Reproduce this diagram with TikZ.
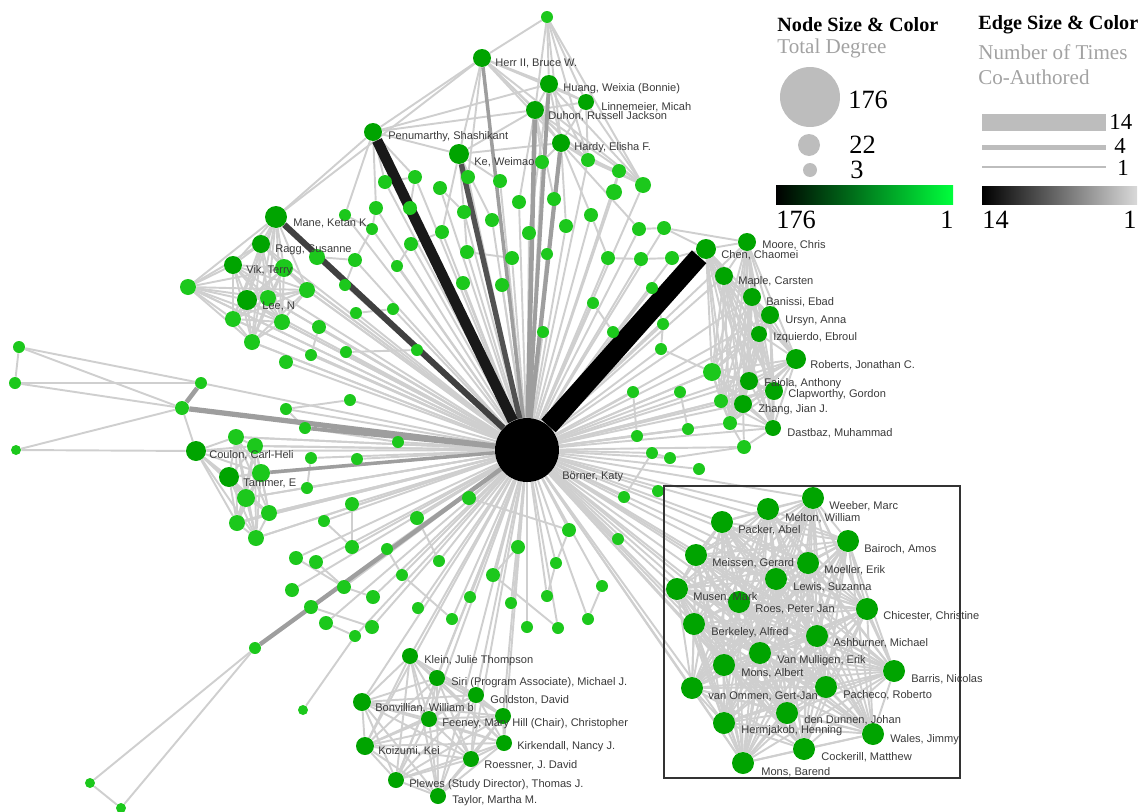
\documentclass[tikz,border=0pt]{standalone}
\usepackage{fontspec}
\setmainfont{Liberation Serif}
\setsansfont{Liberation Sans}
\usetikzlibrary{backgrounds,positioning}
\definecolor{authorgreen}{HTML}{00A400}
\definecolor{leafgreen}{HTML}{1CC81C}
\definecolor{brightgreen}{HTML}{00FF3C}
\definecolor{edgegray}{HTML}{CFCFCF}
\definecolor{keygray}{HTML}{BDBDBD}
\definecolor{subgray}{HTML}{A2A2A2}
\definecolor{namegray}{HTML}{3A3A3A}

\tikzset{
  author/.style={circle,inner sep=0pt,minimum size=#1*0.4mm,fill=authorgreen},
  leaf/.style={circle,inner sep=0pt,minimum size=#1*0.4mm,fill=leafgreen},
  authorname/.style={anchor=west,inner sep=0pt,text=namegray,font=\sffamily\fontsize{6.3}{7}\selectfont},
  coauth/.style={draw=edgegray,line width=1.1pt},
  legendhead/.style={anchor=west,inner sep=0pt,font=\bfseries\fontsize{11.5}{13}\selectfont},
  legendsub/.style={anchor=west,inner sep=0pt,text=subgray,font=\fontsize{12}{14}\selectfont},
  legendnum/.style={anchor=west,inner sep=0pt,font=\fontsize{15}{17}\selectfont},
  widthnum/.style={anchor=west,inner sep=0pt,font=\fontsize{13}{14}\selectfont},
  sizedot/.style={circle,inner sep=0pt,fill=keygray,minimum size=#1*0.4mm}
}

% groups of co-authors that all wrote with one another
\def\topnet{herr,huang,linnemeier,duhon,hardy,t1,t3,t5}
\def\manenet{mane,ragg,vik,lee,m1,m2,m3,m5,m6,m7,m8}
\def\chennet{chen,moore,maple,banissi,ursyn,izquierdo,roberts,faiola,clapworthy,zhang,dastbaz,r1,r2,r3}
\def\coulonnet{coulon,tammer,l6,l7,l8,l9,l10,l11,l12}
\def\nasnet{klein,siri,goldston,bonvillian,feeney,hill,kirkendall,koizumi,roessner,plewes,taylor}
\def\boxnet{weeber,melton,packer,bairoch,meissen,moeller,lewis,musen,roes,chicester,berkeley,ashburner,vanmulligen,monsalbert,barris,vanommen,pacheco,dendunnen,hermjakob,wales,cockerill,monsbarend}

\newcommand\cliqueedges[1]{%
  \foreach \a [count=\i] in #1 {%
    \draw[coauth] (boerner) -- (\a);
    \foreach \b [count=\j] in #1 {\ifnum\j>\i \draw[coauth] (\a) -- (\b);\fi}}}

\begin{document}
\begin{tikzpicture}[x=0.02cm,y=-0.02cm]
  \useasboundingbox (0,0) rectangle (1144,812);

  \node[circle,inner sep=0pt,minimum size=12.8mm,fill=black] (boerner) at (527,450) {};
  \foreach \n/\x/\y/\r in {herr/482/58/9, huang/549/84/9, linnemeier/586/102/8, duhon/535/110/9,
    hardy/561/143/9, ke/459/154/10, penumarthy/373/132/9, mane/276/217/11, ragg/261/244/9,
    vik/233/265/9, lee/247/300/10, coulon/196/451/10, tammer/229/477/10,
    chen/706/249/10, moore/747/242/9, maple/724/276/9, banissi/752/297/9, ursyn/770/315/9,
    izquierdo/759/334/8, roberts/796/359/10, faiola/749/381/9, clapworthy/774/391/9,
    zhang/743/404/9, dastbaz/773/428/8,
    klein/410/656/8, siri/437/678/8, goldston/476/695/8, bonvillian/362/702/9, feeney/429/719/8,
    hill/503/716/8, kirkendall/504/743/8, koizumi/365/746/9, roessner/471/759/8,
    plewes/396/780/8, taylor/438/796/8}
    \node[author=\r] (\n) at (\x,\y) {};
  \foreach \n/\x/\y in {weeber/813/498, melton/768/509, packer/722/522, bairoch/848/541,
    meissen/696/555, moeller/808/563, lewis/776/579, musen/677/589, roes/739/602,
    chicester/867/609, berkeley/694/624, ashburner/817/636, vanmulligen/760/653,
    monsalbert/724/665, barris/894/671, vanommen/692/688, pacheco/826/687, dendunnen/787/713,
    hermjakob/724/723, wales/873/734, cockerill/804/749, monsbarend/743/763}
    \node[author=11] (\n) at (\x,\y) {};
  \foreach \n/\x/\y/\r in {t1/547/17/6, t2/542/162/7, t3/588/160/7, t4/619/171/7, t5/643/185/8,
    t6/614/192/8, t7/468/177/7, t8/500/181/7, t9/440/188/7, t10/519/202/7, t11/554/199/7,
    t12/464/212/7, t13/492/220/7, t14/591/215/7, t15/566/226/7, t16/529/233/7, t17/639/229/7,
    t18/664/228/7, t19/385/182/7, t20/415/177/7, t21/410/208/7, t22/376/208/7, t23/345/215/6,
    t24/372/229/6, t25/442/232/7, t26/411/244/7, t27/467/252/7, t28/512/258/7, t29/547/254/6,
    t30/608/258/7, t31/641/259/7, t32/672/258/7, t33/463/283/7, t34/502/285/7, t35/593/303/6,
    t36/543/332/6, t37/613/332/6,
    m1/188/287/8, m2/268/298/8, m3/284/268/9, m4/317/257/8, m5/307/290/8, m6/233/319/8,
    m7/282/322/8, m8/252/342/8, m9/319/327/7, m10/311/355/6, m11/286/362/7, m12/345/285/6,
    m13/355/260/7, m14/397/266/6, m15/356/313/6, m16/393/309/6, m17/346/352/6, m18/417/350/6,
    m19/350/400/6, m20/398/442/6, m21/357/459/6,
    l1/19/347/6, l2/15/383/6, l3/16/450/5, l4/201/383/6, l5/182/408/7, l6/236/437/8,
    l7/255/446/8, l8/261/473/9, l9/246/498/9, l10/269/513/8, l11/237/523/8, l12/256/538/8,
    l13/286/409/6, l14/305/428/6, l15/311/458/6, l16/307/488/6, l17/324/521/6,
    r1/712/372/9, r2/721/401/7, r3/730/423/7, r4/744/447/7, r5/652/288/6, r6/663/324/6,
    r7/661/349/6, r8/633/392/6, r9/680/392/6, r10/688/429/6, r11/637/436/6, r12/652/453/6,
    r13/670/458/6,
    b1/469/498/7, b2/417/518/7, b3/352/504/7, b4/569/530/7, b5/618/539/6, b6/624/497/6,
    b7/518/547/7, b8/556/563/6, b9/493/575/7, b10/602/586/6, b11/547/596/6, b12/470/597/6,
    b13/511/603/6, b14/292/590/7, b15/344/587/7, b16/311/607/7, b17/373/597/7, b18/418/608/6,
    b19/452/619/6, b20/326/623/7, b21/372/627/7, b22/355/636/6, b23/527/627/6, b24/588/619/6,
    b25/558/628/6, b26/255/648/6, b27/303/710/5, b28/90/783/5, b29/121/808/5, b30/352/547/7,
    b31/387/549/6, b32/296/558/7, b33/316/562/7, b34/439/561/6, b35/402/575/6, b36/658/491/6,
    b37/699/469/6}
    \node[leaf=\r] (\n) at (\x,\y) {};

  \begin{pgfonlayer}{background}
    \foreach \k in {2,...,37} \draw[coauth] (boerner) -- (t\k);
    \foreach \k in {1,...,21} \draw[coauth] (boerner) -- (m\k);
    \foreach \k in {4,...,17} \draw[coauth] (boerner) -- (l\k);
    \foreach \k in {1,...,13} \draw[coauth] (boerner) -- (r\k);
    \foreach \k in {1,...,26,30,31,...,37} \draw[coauth] (boerner) -- (b\k);
    \foreach \a [count=\i] in \topnet {
      \foreach \b [count=\j] in \topnet {\ifnum\j>\i \draw[coauth] (\a) -- (\b);\fi}}
    \cliqueedges{\manenet}
    \cliqueedges{\chennet}
    \cliqueedges{\coulonnet}
    \cliqueedges{\nasnet}
    \cliqueedges{\boxnet}
    \foreach \a/\b in {l1/l2, l1/l4, l1/l5, l2/l4, l2/l5, l3/l5, l3/coulon, l5/coulon,
      b26/b28, b26/b29, b28/b29, b27/b22, b3/b30, l17/b30, b32/b15, b15/b17, b33/b15,
      b16/b21, b20/b22, b2/b34, b31/b35, b35/b19, b1/b4, b7/b9, b9/b25, b4/b8, b8/b11,
      b10/b24, b6/r12, l15/l16, penumarthy/herr, penumarthy/huang, penumarthy/duhon,
      penumarthy/ke, penumarthy/mane, penumarthy/t19, penumarthy/t20, penumarthy/t21,
      penumarthy/t22, penumarthy/t23, herr/mane, herr/ke, herr/t7, ke/duhon, ke/hardy,
      ke/t7, ke/t8, ke/t12, ke/t13, ke/t25, duhon/t10, duhon/t11, hardy/t14, hardy/t15,
      hardy/t17, huang/t16, hardy/t2, duhon/t2, t3/t4, t4/t6, t19/t20, t20/t21, t22/t24,
      t23/t24, t9/t12, t25/t26, t27/t28, t14/t30, t17/t18, t30/t31, t31/t32, t12/t27,
      t35/t37, mane/m4, m4/m13, m12/m13, m13/t24, m14/t26, m15/m16, m9/m10, m17/m18,
      m19/l13, l13/l14, m20/l14, r5/r6, r6/r7, r9/r10, r8/r11, r7/r1, chen/t32, chen/t18,
      moore/t18, r12/r13, r4/r13, dastbaz/r4, r4/r3, r4/zhang}
      \draw[coauth] (\a) -- (\b);
    \draw[draw=black!38,line width=2.6pt] (l4) -- (l5);
    \foreach \n/\w in {herr/2, huang/2.2, duhon/2.6, hardy/2.4, l5/3, l14/2.2, l8/2, b26/2.5, m4/2}
      \draw[draw=black!38,line width=\w pt] (boerner) -- (\n);
    \draw[draw=black!75,line width=3.5pt] (boerner) -- (mane);
    \draw[draw=black!68,line width=3pt] (boerner) -- (ke);
    \draw[draw=black!90,line width=6pt] (boerner) -- (penumarthy);
    \draw[draw=black,line width=11pt] (boerner) -- (chen);
  \end{pgfonlayer}

  \draw[draw=black!80,line width=0.9pt] (664,486) rectangle (960,778);

  \foreach \n/\x/\y/\t in {boerner/562/477/{Börner, Katy}, herr/495/63/{Herr II, Bruce W.},
    huang/563/89/{Huang, Weixia (Bonnie)}, linnemeier/601/107/{Linnemeier, Micah},
    duhon/548/116/{Duhon, Russell Jackson}, hardy/574/148/{Hardy, Elisha F.},
    ke/474/162/{Ke, Weimao}, penumarthy/388/137/{Penumarthy, Shashikant},
    mane/293/223/{Mane, Ketan K.}, ragg/275/250/{Ragg, Susanne}, vik/246/271/{Vik, Terry},
    lee/262/306/{Lee, N}, coulon/209/455/{Coulon, Carl-Heli}, tammer/243/483/{Tammer, E},
    chen/721/255/{Chen, Chaomei}, moore/762/245/{Moore, Chris}, maple/738/282/{Maple, Carsten},
    banissi/766/302/{Banissi, Ebad}, ursyn/785/321/{Ursyn, Anna},
    izquierdo/773/338/{Izquierdo, Ebroul}, roberts/810/365/{Roberts, Jonathan C.},
    faiola/764/384/{Faiola, Anthony}, clapworthy/788/395/{Clapworthy, Gordon},
    zhang/758/410/{Zhang, Jian J.}, dastbaz/787/433/{Dastbaz, Muhammad},
    weeber/829/506/{Weeber, Marc}, melton/785/518/{Melton, William}, packer/738/530/{Packer, Abel},
    bairoch/864/549/{Bairoch, Amos}, meissen/712/563/{Meissen, Gerard},
    moeller/824/570/{Moeller, Erik}, lewis/793/587/{Lewis, Suzanna}, musen/693/597/{Musen, Mark},
    roes/755/609/{Roes, Peter Jan}, chicester/883/616/{Chicester, Christine},
    berkeley/711/633/{Berkeley, Alfred}, ashburner/833/643/{Ashburner, Michael},
    vanmulligen/777/661/{Van Mulligen, Erik}, monsalbert/741/673/{Mons, Albert},
    barris/911/679/{Barris, Nicolas}, vanommen/708/696/{van Ommen, Gert-Jan},
    pacheco/843/695/{Pacheco, Roberto}, dendunnen/804/720/{den Dunnen, Johan},
    hermjakob/741/731/{Hermjakob, Henning}, wales/890/740/{Wales, Jimmy},
    cockerill/821/757/{Cockerill, Matthew}, monsbarend/761/772/{Mons, Barend},
    klein/424/661/{Klein, Julie Thompson}, siri/451/683/{Siri (Program Associate), Michael J.},
    goldston/490/700/{Goldston, David}, bonvillian/375/708/{Bonvillian, William b},
    feeney/442/724/{Feeney, Mary}, hill/512/724/{Hill (Chair), Christopher},
    kirkendall/517/747/{Kirkendall, Nancy J.}, koizumi/378/751/{Koizumi, Kei},
    roessner/484/765/{Roessner, J. David}, plewes/409/785/{Plewes (Study Director), Thomas J.},
    taylor/452/801/{Taylor, Martha M.}}
    \node[authorname] (lbl-\n) at (\x,\y) {\t};

  % legend
  \node[legendhead] (hd-size) at (777,25) {Node Size \& Color};
  \node[legendsub] (sub-size) at (777,48) {Total Degree};
  \node[sizedot=30] (sz176) at (810,97) {};
  \node[sizedot=11] (sz22) at (809,145) {};
  \node[sizedot=7] (sz3) at (810,170) {};
  \node[legendnum] (num176) at (848,100) {176};
  \node[legendnum] (num22) at (849,145) {22};
  \node[legendnum] (num3) at (850,170) {3};
  \shade[left color=black,right color=brightgreen] (776,185) rectangle (953,204);
  \node[legendnum] (deg176) at (776,220) {176};
  \node[legendnum,anchor=east] (deg1) at (954,220) {1};

  \node[legendhead] (hd-edge) at (978,25) {Edge Size \& Color};
  \node[legendsub] (sub-edge) at (978,52) {Number of Times};
  \node[legendsub] (sub-edge2) at (978,77) {Co-Authored};
  \fill[keygray] (982,114) rectangle (1106,131);
  \fill[keygray] (982,145) rectangle (1106,150);
  \fill[keygray] (982,166) rectangle (1106,167.5);
  \node[widthnum] (w14) at (1109,122) {14};
  \node[widthnum] (w4) at (1114,146) {4};
  \node[widthnum] (w1) at (1117,168) {1};
  \shade[left color=black,right color=black!15] (982,186) rectangle (1137,204);
  \node[legendnum] (cnt14) at (982,220) {14};
  \node[legendnum,anchor=east] (cnt1) at (1137,220) {1};
\end{tikzpicture}
\end{document}
